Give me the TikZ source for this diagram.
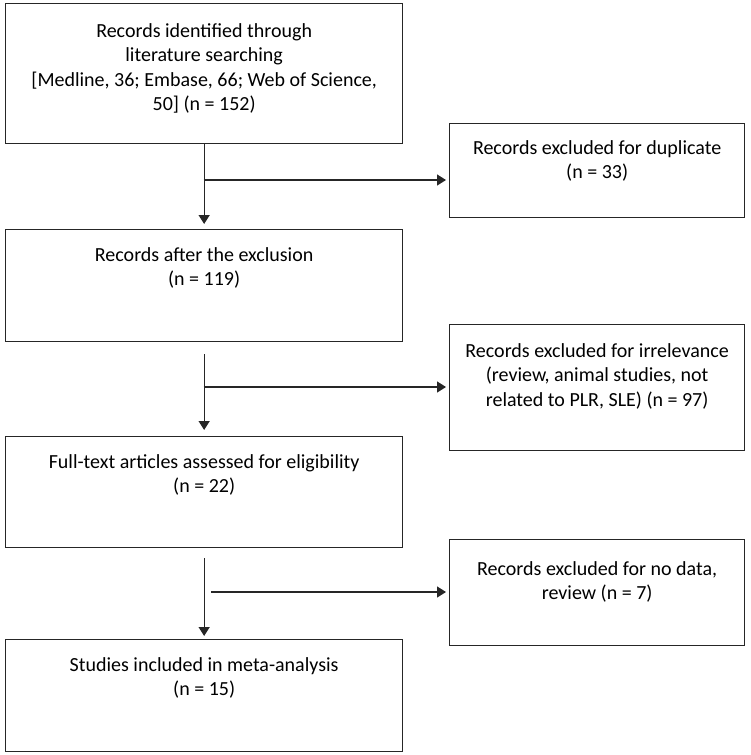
\documentclass[tikz,border=0pt]{standalone}
\usepackage{fontspec}
\setmainfont{Carlito}
\usetikzlibrary{arrows.meta}
\begin{document}
\begin{tikzpicture}[x=1pt,y=-1pt,
  box/.style={draw=black!85, line width=1.3pt, rectangle, inner sep=0pt, anchor=north west},
  txt/.style={inner sep=0pt, align=center, anchor=north, font=\fontsize{20}{24.4}\selectfont, text=black},
  arr/.style={draw=black!85, line width=1.3pt, -{Triangle[length=9pt,width=11pt]}},
  ]
\useasboundingbox (0,0) rectangle (750,755);
% left column
\node[box, minimum width=397pt, minimum height=140pt] (b1) at (5,3) {};
\node[box, minimum width=397pt, minimum height=112pt] (b2) at (5,229) {};
\node[box, minimum width=397pt, minimum height=111pt] (b3) at (5,436) {};
\node[box, minimum width=397pt, minimum height=112pt] (b4) at (5,639) {};
% right column
\node[box, minimum width=295pt, minimum height=94pt] (r1) at (449,123) {};
\node[box, minimum width=295pt, minimum height=126pt] (r2) at (449,324) {};
\node[box, minimum width=295pt, minimum height=106pt] (r3) at (449,539) {};
% texts
\node[txt] (t1) at ([yshift=-17pt]b1.north) {\strut Records identified through\\ literature searching\\ {}[Medline, 36; Embase, 66; Web of Science,\\ 50] (n = 152)};
\node[txt] (t2) at ([yshift=-15pt]b2.north) {\strut Records after the exclusion\\ (n = 119)};
\node[txt] (t3) at ([yshift=-15pt]b3.north) {\strut Full-text articles assessed for eligibility\\ (n = 22)};
\node[txt] (t4) at ([yshift=-15pt]b4.north) {\strut Studies included in meta-analysis\\ (n = 15)};
\node[txt] (s1) at ([yshift=-14pt]r1.north) {\strut Records excluded for duplicate\\ (n = 33)};
\node[txt] (s2) at ([yshift=-16pt]r2.north) {\strut Records excluded for irrelevance\\ (review, animal studies, not\\ related to PLR, SLE) (n = 97)};
\node[txt] (s3) at ([yshift=-19pt]r3.north) {\strut Records excluded for no data,\\ review (n = 7)};
% connectors
\coordinate (j1) at (203.5,180);
\coordinate (j2) at (203.5,387);
\coordinate (j3) at (211,592);
\draw[arr] (b1.south) -- ([yshift=5pt]b2.north);
\draw[arr, shorten >=3pt] (j1) -- (j1 -| r1.west);
\draw[arr] ([yshift=-12pt]b2.south) -- ([yshift=6pt]b3.north);
\draw[arr, shorten >=3pt] (j2) -- (j2 -| r2.west);
\draw[arr] ([yshift=-10pt]b3.south) -- ([yshift=3pt]b4.north);
\draw[arr, shorten >=3pt] (j3) -- (j3 -| r3.west);
\end{tikzpicture}
\end{document}
